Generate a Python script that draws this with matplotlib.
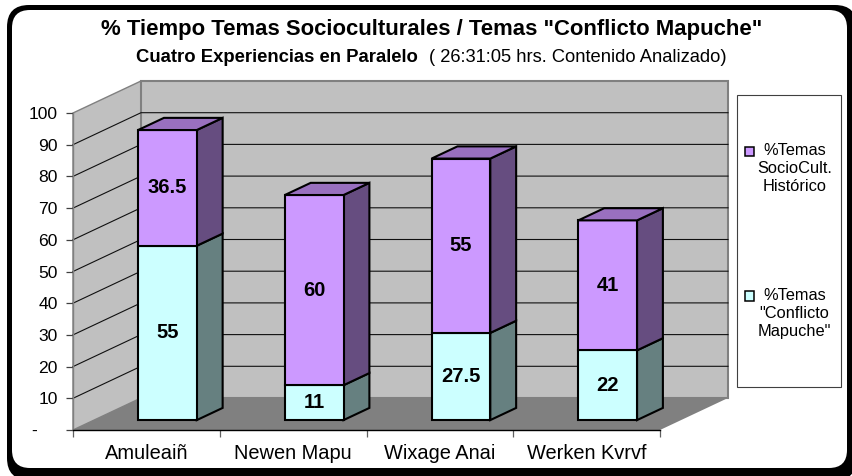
import matplotlib
matplotlib.use("Agg")
import matplotlib.pyplot as plt
from matplotlib.patches import Polygon, FancyBboxPatch, Rectangle, Patch
from matplotlib.transforms import ScaledTranslation

plt.rcParams['font.family'] = ['Liberation Sans', 'DejaVu Sans']

categories = ['Amuleaiñ', 'Newen Mapu', 'Wixage Anai', 'Werken Kvrvf']
conflicto = [55, 11, 27.5, 22]
sociocult = [36.5, 60, 55, 41]
y_ticks = [0, 10, 20, 30, 40, 50, 60, 70, 80, 90, 100]
y_tick_labels = ['-', '10', '20', '30', '40', '50', '60', '70', '80', '90', '100']
label_conflicto = '%Temas\n"Conflicto\nMapuche"'
label_socio = '%Temas\nSocioCult.\nHistórico'

W, H = 852, 476
fig = plt.figure(figsize=(W / 100, H / 100), dpi=100, facecolor='white')

# chrome layer in pixel coordinates
bg = fig.add_axes([0, 0, 1, 1], zorder=0)
bg.set_xlim(0, W); bg.set_ylim(H, 0); bg.axis('off')
bg.add_patch(FancyBboxPatch((7, 5), 850, 475, boxstyle='round,pad=0,rounding_size=22',
                            fc='black', ec='none', clip_on=True))
bg.add_patch(FancyBboxPatch((12, 10), 835, 458, boxstyle='round,pad=0,rounding_size=18',
                            fc='white', ec='none', clip_on=True))
bg.add_patch(Rectangle((737, 95), 104, 292, fc='white', ec='#404040', lw=0.8))

# main axes = front plane of the 3-D box
L, R, T, B = 73, 660, 113, 430
ax = fig.add_axes([L / W, 1 - B / H, (R - L) / W, (B - T) / H], zorder=1)
ax.patch.set_alpha(0)
n = len(categories)
ax.set_xlim(0, n); ax.set_ylim(0, 100)

DX = 68 / ((R - L) / n)
DY = 32 / ((B - T) / 100)


def P(x, y, f=0.0):
    return (x + f * DX, y + f * DY)


def poly(pts, fc, ec='none', lw=0.0, z=1):
    ax.add_patch(Polygon(pts, closed=True, fc=fc, ec=ec, lw=lw, zorder=z,
                         clip_on=False, joinstyle='miter'))


WALL, FLOOR, EDGE = '#c0c0c0', '#808080', '#808080'
poly([P(0, 0), P(0, 100), P(0, 100, 1), P(0, 0, 1)], WALL, EDGE, 1.0)
poly([P(0, 0, 1), P(0, 100, 1), P(n, 100, 1), P(n, 0, 1)], WALL, EDGE, 1.5)
poly([P(0, 0), P(n, 0), P(n, 0, 1), P(0, 0, 1)], FLOOR, z=1.2)

for v in y_ticks[1:-1]:
    a, b, c = P(0, v), P(0, v, 1), P(n, v, 1)
    ax.plot([a[0], b[0], c[0]], [a[1], b[1], c[1]], color='#101010', lw=0.8,
            zorder=1.5, clip_on=False)

# bars
width = 0.4
f0, f1 = 0.31, 0.69
FRONT = ['#ccffff', '#cc99ff']
SIDE = ['#668080', '#664d80']
TOP = ['#99bfbf', '#9970bf']
BLK = dict(ec='black', lw=1.5)
for i in range(n):
    x0, x1 = i + 0.5 - width / 2, i + 0.5 + width / 2
    base = 0
    for s, series in enumerate([conflicto, sociocult]):
        v = series[i]
        y0, y1 = base, base + v
        poly([P(x1, y0, f0), P(x1, y0, f1), P(x1, y1, f1), P(x1, y1, f0)], SIDE[s], z=2, **BLK)
        poly([P(x0, y0, f0), P(x1, y0, f0), P(x1, y1, f0), P(x0, y1, f0)], FRONT[s], z=2.1, **BLK)
        cx, cy = P((x0 + x1) / 2, (y0 + y1) / 2, f0)
        ax.text(cx, cy, f'{v:g}', ha='center', va='center', fontsize=14.5,
                fontweight='bold', color='black', zorder=3)
        base = y1
    poly([P(x0, base, f0), P(x1, base, f0), P(x1, base, f1), P(x0, base, f1)], TOP[1], z=2.2, **BLK)

# axes furniture
for s in ('top', 'right'):
    ax.spines[s].set_visible(False)
ax.spines['left'].set_color('#808080')
ax.spines['left'].set_linewidth(1.0)
ax.spines['bottom'].set_color('black')
ax.spines['bottom'].set_linewidth(1.0)
for sp in ax.spines.values():
    sp.set_zorder(4)
ax.set_yticks(y_ticks)
ax.set_yticklabels(y_tick_labels)
ax.set_xticks(range(n + 1))
ax.set_xticklabels([])
ax.set_xticks([i + 0.5 for i in range(n)], minor=True)
ax.set_xticklabels(categories, minor=True)
ax.tick_params(axis='x', which='minor', length=0, labelsize=14.4, pad=10)
ax.tick_params(axis='x', which='major', length=5, width=0.9, color='#606060')
ax.tick_params(axis='y', length=5, width=0.9, color='#404040', labelsize=12.6, pad=6)

# the zero label sits further left in the reference
zero = ax.yaxis.get_major_ticks()[0].label1
zero.set_transform(zero.get_transform() + ScaledTranslation(-21 / 100, 0, fig.dpi_scale_trans))

# legend
handles = [Patch(fc=FRONT[1], ec='black', lw=1.1, label=label_socio),
           Patch(fc=FRONT[0], ec='black', lw=1.1, label=label_conflicto)]
leg = ax.legend(handles=handles, frameon=False, fontsize=11.8, labelspacing=5.7,
                handlelength=0.55, handleheight=0.55, handletextpad=0.22, borderpad=0, borderaxespad=0,
                loc='upper left', bbox_to_anchor=(745 / W, 1 - 143 / H),
                bbox_transform=fig.transFigure)
for t in leg.get_texts():
    t.set_multialignment('center')
    t.set_linespacing(1.27)
for h in leg.legend_handles:
    h.set_y(h.get_y() + 12.6)

# titles
fig.text(432 / W, 1 - 29 / H, '% Tiempo Temas Socioculturales / Temas "Conflicto Mapuche"',
         ha='center', va='center', fontsize=15.9, fontweight='bold')
fig.text(136 / W, 1 - 57 / H, 'Cuatro Experiencias en Paralelo', ha='left', va='center',
         fontsize=13.3, fontweight='bold')
fig.text(727 / W, 1 - 57 / H, '( 26:31:05 hrs. Contenido Analizado)', ha='right', va='center',
         fontsize=13.2)

fig.savefig('out.png', dpi=100, facecolor='white')
